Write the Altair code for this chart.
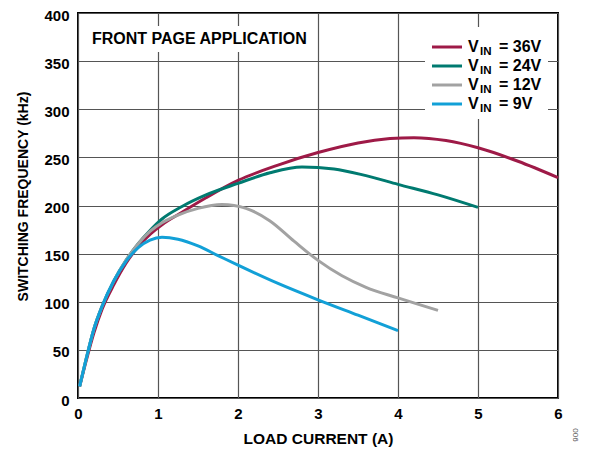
import altair as alt
import pandas as pd

FONT = "Liberation Sans"

series_names = ["36V", "24V", "12V", "9V"]
series_colors = ["#9E1A47", "#007A70", "#A2A2A2", "#12A0D7"]

x_36 = [0.02, 0.1, 0.2, 0.3, 0.45, 0.6, 0.75, 0.9, 1.05, 1.3, 1.6, 2.0, 2.5, 3.0, 3.5, 3.9, 4.2, 4.6, 5.0, 5.5, 6.0]
y_36 = [12, 38, 68, 92, 118, 140, 157, 170, 180, 193, 208, 226, 242, 255, 265, 269.5, 270.5, 267.5, 260, 246, 229]

x_24 = [0.02, 0.1, 0.2, 0.3, 0.45, 0.6, 0.75, 0.9, 1.05, 1.3, 1.6, 2.0, 2.4, 2.8, 3.2, 3.6, 4.0, 4.5, 5.0]
y_24 = [12, 40, 72, 95, 122, 143, 160, 174, 186, 199, 211, 223, 234, 240, 238, 231, 222, 211, 198]

x_12 = [0.02, 0.1, 0.2, 0.3, 0.45, 0.6, 0.75, 0.9, 1.05, 1.25, 1.5, 1.8, 2.1, 2.4, 2.7, 3.0, 3.3, 3.6, 4.0, 4.5]
y_12 = [12, 40, 72, 95, 122, 143, 160, 173, 182, 190, 197, 201, 197, 184, 163, 143, 127, 115, 104, 91]

x_9 = [0.02, 0.1, 0.2, 0.3, 0.45, 0.6, 0.75, 0.9, 1.05, 1.25, 1.5, 1.75, 2.0, 2.5, 3.0, 3.5, 4.0]
y_9 = [12, 40, 72, 95, 122, 142, 156, 164, 167, 165, 158, 148, 138, 119, 102, 86, 70]

x_ticks = [0, 1, 2, 3, 4, 5, 6]
y_ticks = [0, 50, 100, 150, 200, 250, 300, 350, 400]

all_x = [x_36, x_24, x_12, x_9]
all_y = [y_36, y_24, y_12, y_9]

W, H = 480, 385

xs = alt.Scale(domain=[0, 6], nice=False)
ys = alt.Scale(domain=[0, 400], nice=False)

layers = []
for name, col, xv, yv in zip(series_names, series_colors, all_x, all_y):
    df = pd.DataFrame({"x": xv, "y": yv, "s": name})
    layers.append(
        alt.Chart(df).mark_line(color=col, strokeWidth=3, interpolate="monotone").encode(
            x=alt.X("x:Q", scale=xs, axis=alt.Axis(values=x_ticks, title="LOAD CURRENT (A)",
                                                   labelFlush=False, titlePadding=10, labelPadding=8,
                                                   titleFontSize=15.5)),
            y=alt.Y("y:Q", scale=ys, axis=alt.Axis(values=y_ticks, title="SWITCHING FREQUENCY (kHz)",
                                                   labelFlush=False, titlePadding=13, labelPadding=9,
                                                   labelOffset=2, titleFontSize=14, titleY=183)),
        )
    )

dummy = pd.DataFrame({"a": [0]})
base = alt.Chart(dummy)

# annotation box
front_bg = base.mark_rect(color="white").encode(
    x=alt.value(7), x2=alt.value(238), y=alt.value(13), y2=alt.value(39))
front_txt = base.mark_text(text="FRONT PAGE APPLICATION", align="left", baseline="middle",
                           font=FONT, fontWeight="bold", fontSize=16, color="black").encode(
    x=alt.value(14), y=alt.value(26))

# legend
leg_bg = base.mark_rect(color="white").encode(
    x=alt.value(347), x2=alt.value(470), y=alt.value(14), y2=alt.value(106))
legend_layers = [leg_bg]
for i, (name, col) in enumerate(zip(series_names, series_colors)):
    yy = 34 + i * 19
    legend_layers.append(base.mark_rule(color=col, strokeWidth=3).encode(
        x=alt.value(354), x2=alt.value(384), y=alt.value(yy)))
    legend_layers.append(base.mark_text(text="V", align="left", baseline="middle", font=FONT,
                                        fontWeight="bold", fontSize=16, color="black").encode(
        x=alt.value(390), y=alt.value(yy)))
    legend_layers.append(base.mark_text(text="IN", align="left", baseline="middle", font=FONT,
                                        fontWeight="bold", fontSize=11.5, color="black").encode(
        x=alt.value(402), y=alt.value(yy + 5)))
    legend_layers.append(base.mark_text(text="= " + name, align="left", baseline="middle", font=FONT,
                                        fontWeight="bold", fontSize=16, color="black").encode(
        x=alt.value(421), y=alt.value(yy)))

code_txt = base.mark_text(text="006", angle=90, align="center", baseline="middle", font=FONT,
                          fontSize=8, color="#555").encode(x=alt.value(W + 17), y=alt.value(H + 37))

chart = alt.layer(*layers, front_bg, front_txt, *legend_layers, code_txt).properties(
    width=W, height=H,
    autosize=alt.AutoSizeParams(type="none"),
    padding={"left": 70, "top": 5, "right": 22, "bottom": 50},
).configure_view(
    stroke="black", strokeWidth=2
).configure_axis(
    grid=True, gridColor="#555555", gridWidth=1.2, ticks=False, domain=False,
    labelFont=FONT, labelFontWeight="bold", labelFontSize=15, labelColor="black",
    titleFont=FONT, titleFontWeight="bold", titleColor="black",
)

chart.save("out.html", embed_options={"renderer": "svg", "actions": False})
